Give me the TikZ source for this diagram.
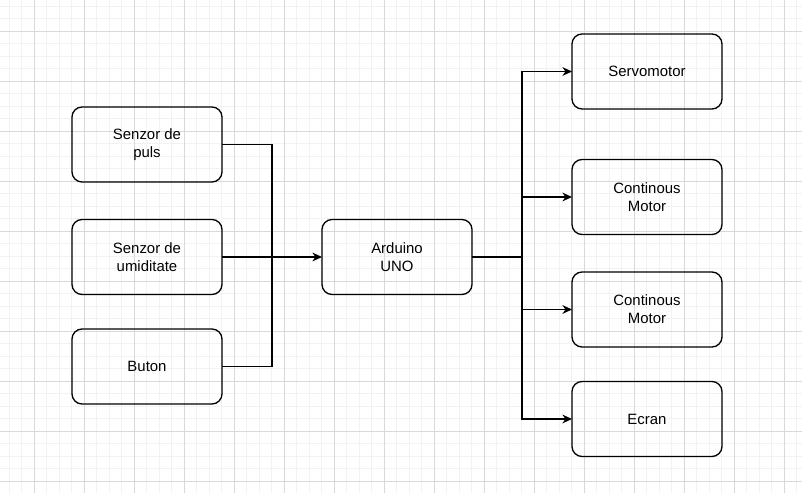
\documentclass[tikz,border=0pt]{standalone}
\usepackage{fontspec}
\setmainfont{Liberation Sans}
\usetikzlibrary{arrows.meta}
\tikzset{
  bloc/.style={draw, rounded corners=0.2cm, minimum width=3cm, minimum height=1.5cm,
    inner sep=0pt, outer sep=0pt, align=center, line width=0.75pt,
    font=\fontsize{8.5}{10.2}\selectfont},
  fir/.style={line width=0.7pt},
  sageata/.style={fir, -{Stealth[length=5.5pt,width=5pt]}}
}
\begin{document}
\begin{tikzpicture}[x=0.02cm, y=-0.02cm]
\useasboundingbox (0,0) rectangle (802,493);
\fill[white] (0,0) rectangle (802,493);
% grila de fundal
\foreach \x in {9.3,21.8,...,802} \draw[line width=0.5pt, black!5] (\x,0) -- (\x,493);
\foreach \y in {6.3,18.8,...,493} \draw[line width=0.5pt, black!5] (0,\y) -- (802,\y);
\foreach \x in {34.3,84.3,...,802} \draw[line width=0.5pt, black!15] (\x,0) -- (\x,493);
\foreach \y in {31.3,81.3,...,493} \draw[line width=0.5pt, black!15] (0,\y) -- (802,\y);
% intrari
\node[bloc] (puls) at (147,144.5) {Senzor de\\puls};
\node[bloc] (umid) at (147,257) {Senzor de\\umiditate};
\node[bloc] (buton) at (147,366.5) {Buton};
\node[bloc] (arduino) at (397,257) {Arduino\\UNO};
% iesiri
\node[bloc] (servo) at (647,71.5) {Servomotor};
\node[bloc] (motor1) at (647,197) {Continous\\Motor};
\node[bloc] (motor2) at (647,309.5) {Continous\\Motor};
\node[bloc] (ecran) at (647,419) {Ecran};
\coordinate (jin) at (272,257);
\coordinate (jout) at (522,257);
\draw[fir] (puls.east) -| (jin);
\draw[fir] (buton.east) -| (jin);
\draw[sageata] (umid) -- (arduino);
\draw[fir] (arduino) -- (jout);
\draw[sageata] (jout) |- (servo.west);
\draw[sageata] (jout) |- (motor1.west);
\draw[sageata] (jout) |- (motor2.west);
\draw[sageata] (jout) |- (ecran.west);
\end{tikzpicture}
\end{document}
